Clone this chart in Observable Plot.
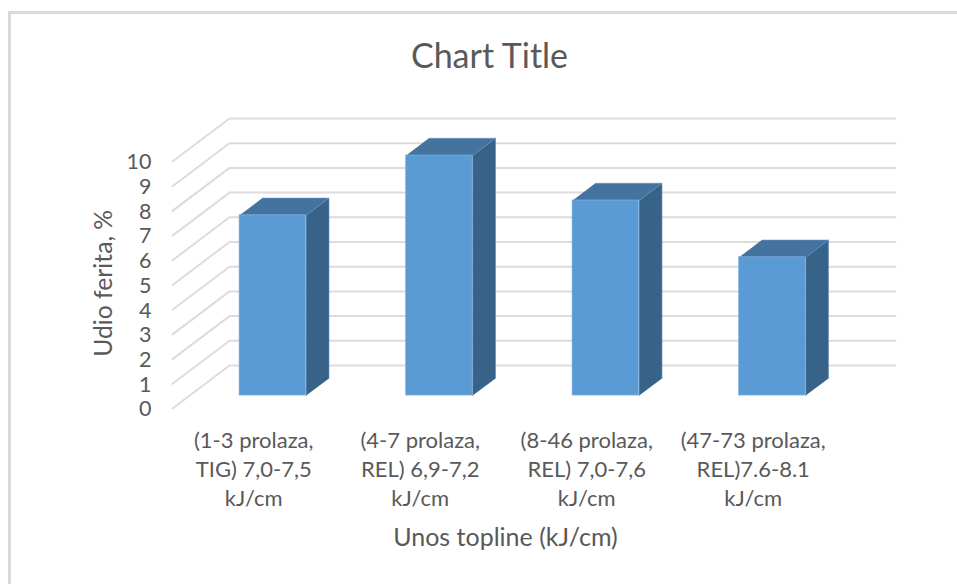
<!DOCTYPE html>
<html>
<head>
<meta charset="utf-8">
<script src="https://cdn.jsdelivr.net/npm/d3@7"></script>
<script src="https://cdn.jsdelivr.net/npm/@observablehq/plot@0.6"></script>
<style>
  html, body { margin: 0; padding: 0; background: #fff; }
  body { width: 957px; height: 584px; overflow: hidden; position: relative; font-family: Lato, "Open Sans", sans-serif; color: #595959; }
  #frame { position: absolute; left: 8px; top: 11px; right: 0; bottom: 0; border-top: 3px solid #d9d9d9; border-left: 3px solid #d9d9d9; pointer-events: none; }
  #title { position: relative; height: 100px; box-sizing: border-box; padding-top: 36px; width: 979px; text-align: center; font-size: 34px; line-height: 38px; }
  #xlabel { position: absolute; left: 0; width: 1011px; top: 520px; text-align: center; font-size: 25px; line-height: 32px; }
</style>
</head>
<body>
<div id="frame"></div>
<div id="title">Chart Title</div>
<div id="chart"></div>
<div id="xlabel">Unos topline (kJ/cm)</div>
<script>
const categories = [
  "(1-3 prolaza,\nTIG) 7,0-7,5\nkJ/cm",
  "(4-7 prolaza,\nREL) 6,9-7,2\nkJ/cm",
  "(8-46 prolaza,\nREL) 7,0-7,6\nkJ/cm",
  "(47-73 prolaza,\nREL)7.6-8.1\nkJ/cm"
];
const values = [7.3, 9.72, 7.9, 5.6];
const yTicks = [0, 1, 2, 3, 4, 5, 6, 7, 8, 9, 10];
const yLabel = "Udio ferita, %";

// Oblique projection of the chart's depth axis onto the x (categories) and y (value) scales.
const depthX = 0.3425, depthY = 1.741;
const barWidth = 0.4, barNear = 0.3, barFar = 0.7;
const project = (cat, val, depth) => ({ x: cat + depth * depthX, y: val + depth * depthY });

const gridLines = yTicks.flatMap(v => [
  { v, ...project(0, v, 0) },
  { v, ...project(0, v, 1) },
  { v, ...project(categories.length, v, 1) }
]);

const bars = values.map((v, i) => {
  const l = i + (1 - barWidth) / 2, r = l + barWidth;
  return { i, v, l, r };
});
const front = bars.map(({ l, r, v }) => {
  const a = project(l, 0, barNear), b = project(r, v, barNear);
  return { x1: a.x, x2: b.x, y1: a.y, y2: b.y };
});
const face = (corners) => bars.flatMap(b => corners(b).map(p => ({ i: b.i, ...p })));
const topFace = face(({ l, r, v }) => [
  project(l, v, barNear), project(r, v, barNear), project(r, v, barFar), project(l, v, barFar)
]);
const sideFace = face(({ r, v }) => [
  project(r, 0, barNear), project(r, v, barNear), project(r, v, barFar), project(r, 0, barFar)
]);

const plot = Plot.plot({
  width: 957,
  height: 415,
  marginLeft: 172,
  marginRight: 62,
  marginTop: 18,
  marginBottom: 107,
  style: { fontFamily: "Lato, 'Open Sans', sans-serif", color: "#595959", background: "transparent", overflow: "visible" },
  x: { domain: [0, categories.length + depthX] },
  y: { domain: [0, 10 + depthY] },
  marks: [
    Plot.line(gridLines, { x: "x", y: "y", z: "v", stroke: "#dcdcdc", strokeWidth: 2, curve: "linear" }),
    Plot.line(sideFace, { x: "x", y: "y", z: "i", fill: "#376389", stroke: "#5585b0", strokeWidth: 0.6, curve: "linear" }),
    Plot.line(topFace, { x: "x", y: "y", z: "i", fill: "#44739f", stroke: "#5f92c2", strokeWidth: 0.6, curve: "linear" }),
    Plot.rect(front, { x1: "x1", x2: "x2", y1: "y1", y2: "y2", fill: "#5b9bd5", stroke: "#85b5e0", strokeWidth: 0.6 }),
    Plot.axisY({ ticks: yTicks, tickSize: 0, tickPadding: 21, label: null, fontSize: 21.5, dy: 1 }),
    Plot.axisX({
      ticks: categories.map((_, i) => i + 0.5),
      tickFormat: x => categories[Math.floor(x)],
      tickSize: 0, tickPadding: 19.5, label: null, fontSize: 22, lineHeight: 1.3, dx: -2
    }),
    Plot.text([yLabel], { frameAnchor: "left", textAnchor: "middle", y: [5.07], dx: -68, rotate: -90, fontSize: 24.7, text: d => d })
  ]
});
document.getElementById("chart").appendChild(plot);
</script>
</body>
</html>
